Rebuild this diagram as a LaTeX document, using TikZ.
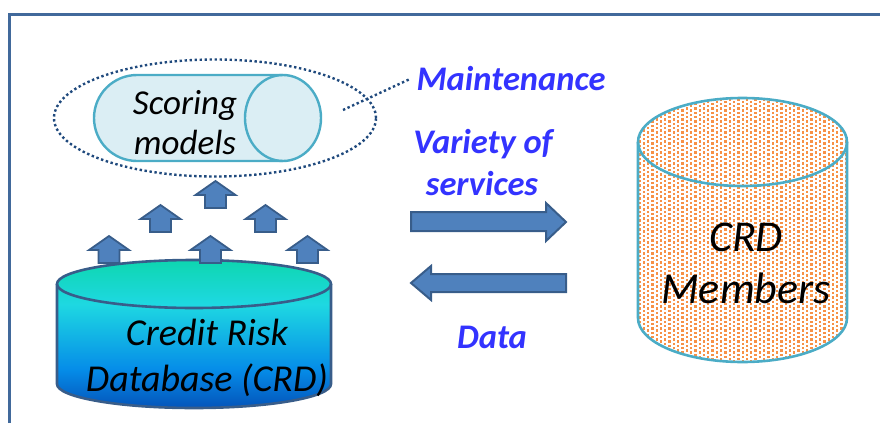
\documentclass[tikz,border=0pt]{standalone}
\usepackage{fontspec}
\setmainfont{Carlito}
\usetikzlibrary{shapes.arrows,shapes.geometric}
\definecolor{frameblue}{RGB}{65,105,155}
\definecolor{arrowfill}{RGB}{79,129,189}
\definecolor{arrowline}{RGB}{56,93,138}
\definecolor{tealline}{RGB}{75,172,198}
\definecolor{palefill}{RGB}{219,238,244}
\definecolor{labelblue}{RGB}{51,51,255}
\definecolor{dotline}{RGB}{31,73,125}
\definecolor{dotorange}{RGB}{247,145,70}
\pgfdeclareverticalshading{dbshade}{100bp}{
  rgb(0bp)=(0.016,0.33,0.73);
  rgb(25bp)=(0.016,0.33,0.73);
  rgb(38bp)=(0.02,0.55,0.91);
  rgb(60bp)=(0.118,0.847,0.886);
  rgb(75bp)=(0.055,0.84,0.69);
  rgb(100bp)=(0.055,0.84,0.69)}
\tikzset{
  blocktext/.style={font=\fontsize{#1}{#1}\selectfont\itshape,text=black,inner sep=0pt,align=center},
  bluelabel/.style={font=\fontsize{34.5}{40}\selectfont\bfseries\itshape,text=labelblue,inner sep=0pt,align=center},
  dotted link/.style={draw=dotline,line width=2.4pt,dash pattern=on 2.4pt off 2.6pt},
  uparrow/.style={draw=arrowline,line width=1.8pt,fill=arrowfill,line join=miter},
  bigarrow/.style={draw=arrowline,line width=2pt,fill=arrowfill,line join=miter},
}
\begin{document}
\begin{tikzpicture}[x=1pt,y=-1pt]
\useasboundingbox (0,0) rectangle (880,423);
% frame
\draw[frameblue,line width=3pt] (9.5,423) -- (9.5,14) -- (880,14);
% dotted ellipse
\node[ellipse,dotted link,minimum width=322pt,minimum height=117pt,inner sep=0pt] (halo) at (215,118) {};
% scoring cylinder
\path[fill=palefill,draw=tealline,line width=2.4pt]
  (283,75) -- (137,75) arc[start angle=270,end angle=90,x radius=43,y radius=43] -- (283,161)
  arc[start angle=90,end angle=-90,x radius=38,y radius=43] -- cycle;
\draw[tealline,line width=2.4pt] (283,75) arc[start angle=270,end angle=90,x radius=38,y radius=43];
\node[blocktext=35,anchor=base] (scoring) at (185,114) {Scoring};
\node[blocktext=35,anchor=base] (models) at (185,154) {models};
% maintenance link
\coordinate (linkA) at (343,110);
\coordinate (linkB) at (410,79);
\draw[dotted link] (linkA) -- (linkB);
% database
\path[shading=dbshade,draw=none]
  (57,284) arc[start angle=180,end angle=360,x radius=137,y radius=24] -- (331,384) arc[start angle=0,end angle=180,x radius=137,y radius=24] -- cycle;
\draw[arrowline,line width=2.6pt] (57,284) -- (57,384) arc[start angle=180,end angle=0,x radius=137,y radius=24] -- (331,284);
\draw[arrowline,line width=2.6pt] (194,284) ellipse[x radius=137,y radius=24];
\node[blocktext=38,anchor=base] (credit) at (207,345) {Credit Risk};
\node[blocktext=38,anchor=base] (database) at (207,391) {Database (CRD)};
% up arrows
\foreach \n/\x/\y in {a/215.5/181,b/160.5/205,c/265.5/205,d/109/236,e/210.5/236,f/307.5/236}{
  \path[uparrow] (\x,\y) -- ++(20,14) -- ++(-9.5,0) -- ++(0,13) -- ++(-21,0) -- ++(0,-13) -- ++(-9.5,0) -- cycle;
}
% big arrows
\path[bigarrow] (411,212) -- (546,212) -- (546,203) -- (566,222) -- (546,241) -- (546,231) -- (411,231) -- cycle;
\path[bigarrow] (566,274) -- (431,274) -- (431,266) -- (411,283) -- (431,300) -- (431,292) -- (566,292) -- cycle;
% members cylinder
\begin{scope}
\clip (638,142) arc[start angle=180,end angle=360,x radius=104.5,y radius=44] -- (847,318) arc[start angle=0,end angle=180,x radius=104.5,y radius=44] -- cycle;
\foreach \i in {0,...,50}{
  \pgfmathsetmacro{\off}{mod(\i,2)*2.2}
  \foreach \j in {0,...,62}{
    \fill[dotorange] ({634+\i*4.3},{94+\off+\j*4.4}) rectangle ++(2.3,2.3);
  }
}
\end{scope}
\draw[tealline,line width=2.6pt] (638,142) arc[start angle=180,end angle=360,x radius=104.5,y radius=44] -- (847,318) arc[start angle=0,end angle=180,x radius=104.5,y radius=44] -- cycle;
\draw[tealline,line width=2.6pt] (638,142) arc[start angle=180,end angle=0,x radius=104.5,y radius=44];
\node[blocktext=44,anchor=base] (crd) at (746,251) {CRD};
\node[blocktext=44,anchor=base] (members) at (746,303) {Members};
% labels
\node[bluelabel,anchor=base] (maint) at (511,90) {Maintenance};
\node[bluelabel,anchor=base] (variety) at (483,153) {Variety of};
\node[bluelabel,anchor=base] (services) at (482,195) {services};
\node[bluelabel,anchor=base] (data) at (492,348) {Data};
\end{tikzpicture}
\end{document}
